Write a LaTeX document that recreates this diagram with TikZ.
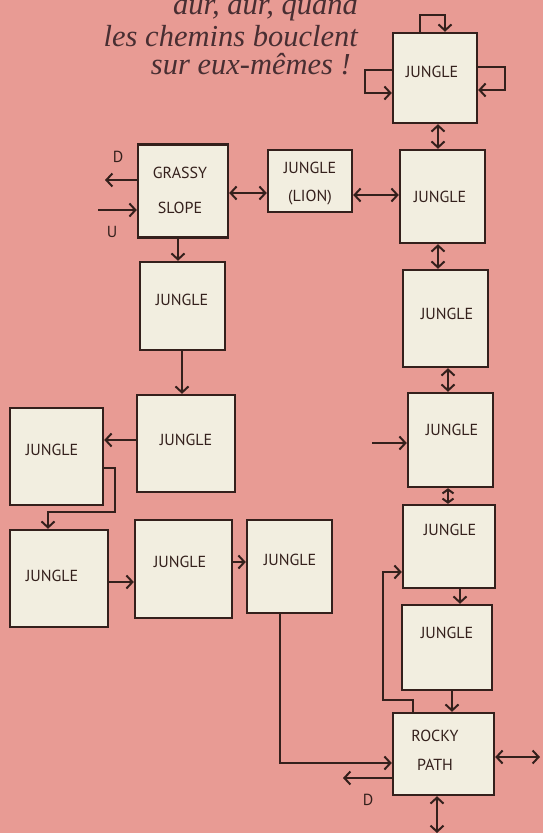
\documentclass[tikz,border=0pt]{standalone}
\usepackage{fontspec}
\setmainfont{Liberation Serif}
\newfontfamily\hand{PT Sans}
\usetikzlibrary{arrows.meta}
\definecolor{bgpink}{RGB}{232,155,148}
\definecolor{boxfill}{RGB}{242,238,224}
\definecolor{ink}{RGB}{52,32,28}
\definecolor{titleink}{RGB}{72,46,50}
\begin{document}
\begin{tikzpicture}[x=1pt,y=-1pt,
  room/.style={draw=ink, fill=boxfill, line width=2.4pt, inner sep=0pt},
  lbl/.style={font=\hand\fontsize{16}{18}\selectfont, text=ink, align=center, inner sep=0pt},
  link/.style={draw=ink, line width=2pt, -{Straight Barb[length=6pt,width=13pt]}},
  both/.style={draw=ink, line width=2pt, {Straight Barb[length=6pt,width=13pt]}-{Straight Barb[length=6pt,width=13pt]}},
  bothshort/.style={draw=ink, line width=2pt, {Straight Barb[length=4pt,width=11pt]}-{Straight Barb[length=4pt,width=11pt]}},
  ttl/.style={font=\itshape\fontsize{30.5}{32}\selectfont, text=titleink, anchor=base east, inner sep=0pt}]
\fill[bgpink] (0,0) rectangle (543,833);
\useasboundingbox (0,0) rectangle (543,833);

% title
\node[ttl] (l1) at (358,14) {dur, dur, quand};
\node[ttl] (l2) at (358,46) {les chemins bouclent};
\node[ttl] (l3) at (351,74) {sur eux-mêmes !};

% rooms
\node[room, minimum width=84pt, minimum height=90pt] (b0) at (435,78) {};
\node[room, minimum width=85pt, minimum height=93pt] (b1) at (442.5,196.5) {};
\node[room, minimum width=84pt, minimum height=62pt] (lion) at (310,181) {};
\node[room, minimum width=90pt, minimum height=93pt] (grassy) at (183,191) {};
\node[room, minimum width=85pt, minimum height=88pt] (b3) at (182.5,306) {};
\node[room, minimum width=98pt, minimum height=97pt] (b4) at (186,443.5) {};
\node[room, minimum width=93pt, minimum height=97pt] (b5) at (56.5,456.5) {};
\node[room, minimum width=98pt, minimum height=97pt] (b6) at (59,578.5) {};
\node[room, minimum width=97pt, minimum height=98pt] (b7) at (183.5,569) {};
\node[room, minimum width=85pt, minimum height=93pt] (b8) at (289.5,566.5) {};
\node[room, minimum width=85pt, minimum height=97pt] (b2) at (445.5,318.5) {};
\node[room, minimum width=85pt, minimum height=94pt] (b9) at (450.5,440) {};
\node[room, minimum width=92pt, minimum height=83pt] (b10) at (449,546.5) {};
\node[room, minimum width=90pt, minimum height=85pt] (b11) at (447,647.5) {};
\node[room, minimum width=101pt, minimum height=82pt] (rocky) at (443.5,754) {};

% room texts
\node[lbl] (t0) at (432,72) {JUNGLE};
\node[lbl] (t1) at (440,197) {JUNGLE};
\node[lbl, font=\hand\fontsize{16}{28}\selectfont] (tl) at (310,184) {JUNGLE\\(LION)};
\node[lbl, font=\hand\fontsize{16}{35}\selectfont] (tg) at (180,190) {GRASSY\\SLOPE};
\node[lbl] (t3) at (182,300) {JUNGLE};
\node[lbl] (t4) at (186,440) {JUNGLE};
\node[lbl] (t5) at (52,450) {JUNGLE};
\node[lbl] (t6) at (52,576) {JUNGLE};
\node[lbl] (t7) at (180,562) {JUNGLE};
\node[lbl] (t8) at (290,560) {JUNGLE};
\node[lbl] (t2) at (447,314) {JUNGLE};
\node[lbl] (t9) at (452,430) {JUNGLE};
\node[lbl] (t10) at (450,530) {JUNGLE};
\node[lbl] (t11) at (447,633) {JUNGLE};
\node[lbl, font=\hand\fontsize{16}{29}\selectfont] (tr) at (435,750) {ROCKY\\PATH};

% exit labels
\node[lbl] (dg) at (118,157) {D};
\node[lbl] (ug) at (112,232) {U};
\node[lbl] (dr) at (368,800) {D};

% free ends
\coordinate (gd) at (105,180);
\coordinate (gu) at (98,210);
\coordinate (in9) at (372,443);
\coordinate (re) at (540,757);
\coordinate (rw) at (343,778);
\coordinate (rs) at (437,833);

% loops on top room
\draw[link] (b0.north -| 420,0) -- (420,15) -- (445,15) -- (b0.north -| 445,0);
\draw[link] (b0.west |- 0,70) -- (365,70) -- (365,93) -- (b0.west |- 0,93);
\draw[link] (b0.east |- 0,67) -- (505,67) -- (505,90) -- (b0.east |- 0,90);

% right column
\draw[both] (b0.south -| 438,0) -- (b1.north -| 438,0);
\draw[both] (b1.south -| 438,0) -- (b2.north -| 438,0);
\draw[both] (b2.south -| 448,0) -- (b9.north -| 448,0);
\draw[bothshort] (b9.south -| 448,0) -- (b10.north -| 448,0);
\draw[link] (b10.south -| 460,0) -- (b11.north -| 460,0);
\draw[link] (b11.south -| 452,0) -- (rocky.north -| 452,0);
\draw[link] (in9) -- (b9.west |- in9);

% top row
\draw[both] (b1.west |- 0,195) -- (lion.east |- 0,195);
\draw[both] (lion.west |- 0,193) -- (grassy.east |- 0,193);
\draw[link] (grassy.west |- gd) -- (gd);
\draw[link] (gu) -- (grassy.west |- gu);

% left part
\draw[link] (grassy.south -| 178,0) -- (b3.north -| 178,0);
\draw[link] (b3.south -| 182,0) -- (b4.north -| 182,0);
\draw[link] (b4.west |- 0,440) -- (b5.east |- 0,440);
\draw[link] (b5.east |- 0,468) -- (115,468) -- (115,512) -- (48,512) -- (b6.north -| 48,0);
\draw[link] (b6.east |- 0,582) -- (b7.west |- 0,582);
\draw[link] (b7.east |- 0,562) -- (b8.west |- 0,562);

% to and from rocky path
\draw[link] (b8.south -| 280,0) |- (rocky.west |- 0,763);
\draw[link] (rocky.north -| 413,0) -- (413,700) -- (383,700) |- (b10.west |- 0,572);
\draw[both] (rocky.east |- re) -- (re);
\draw[link] (rocky.west |- rw) -- (rw);
\draw[both] (rocky.south -| rs) -- (rs);
\end{tikzpicture}
\end{document}
